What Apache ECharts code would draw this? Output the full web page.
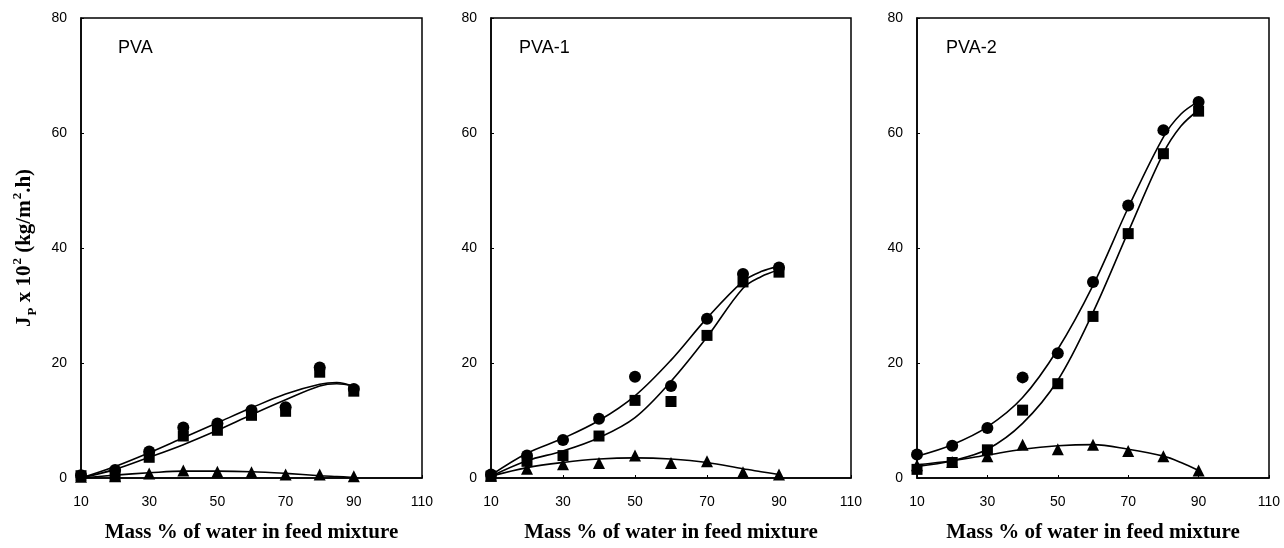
<!DOCTYPE html>
<html>
<head>
<meta charset="utf-8">
<script src="https://cdn.jsdelivr.net/npm/echarts@6/dist/echarts.min.js"></script>
<style>html,body{margin:0;padding:0;background:#fff;}#c{width:1284px;height:548px;}</style>
</head>
<body>
<div id="c"></div>
<script>
// ---- data ----
const panelNames = ['PVA', 'PVA-1', 'PVA-2'];
const xVals = [10, 20, 30, 40, 50, 60, 70, 80, 90];
const xTicks = [10, 30, 50, 70, 90, 110];
const yTicks = [0, 20, 40, 60, 80];

// measured points (circle, square, triangle)
const pvaCircle   = [0.5, 1.4, 4.6, 8.8, 9.5, 11.8, 12.3, 19.2, 15.5];
const pvaSquare   = [0.4, 0.3, 3.6, 7.3, 8.3, 10.9, 11.6, 18.4, 15.1];
const pvaTriangle = [0.2, 0.3, 0.8, 1.3, 1.1, 1.0, 0.6, 0.6, 0.3];

const pva1Circle   = [0.6, 3.9, 6.6, 10.3, 17.6, 16.0, 27.7, 35.5, 36.6];
const pva1Square   = [0.3, 2.9, 3.9, 7.3, 13.5, 13.3, 24.8, 34.1, 35.8];
const pva1Triangle = [0.4, 1.6, 2.4, 2.6, 3.9, 2.6, 2.9, 1.0, 0.6];

const pva2Circle   = [4.1, 5.6, 8.7, 17.5, 21.7, 34.1, 47.4, 60.5, 65.4];
const pva2Square   = [1.5, 2.7, 4.9, 11.8, 16.4, 28.1, 42.5, 56.4, 63.8];
const pva2Triangle = [2.2, 2.8, 3.8, 5.8, 5.0, 5.8, 4.7, 3.8, 1.3];

// fitted curves
const fitX = [10, 20, 30, 40, 50, 60, 70, 80, 85, 90];
const pvaFitUpper   = [0.0, 2.0, 4.4, 7.0, 9.6, 12.2, 14.6, 16.3, 16.6, 15.9];
const pvaFitLower   = [0.0, 1.5, 3.6, 5.8, 8.3, 11.0, 13.6, 16.0, 16.4, 16.0];
const pvaFitTri     = [0.0, 0.5, 0.9, 1.2, 1.2, 1.1, 0.8, 0.4, 0.25, 0.1];

const pva1FitUpper  = [0.5, 4.3, 6.9, 10.0, 14.3, 20.5, 27.8, 34.2, 35.9, 36.8];
const pva1FitLower  = [0.3, 3.0, 4.7, 7.0, 10.5, 16.8, 24.5, 33.0, 35.0, 36.2];
const pva1FitTri    = [0.3, 1.8, 2.7, 3.3, 3.5, 3.3, 2.7, 1.6, 1.1, 0.6];

const pva2FitUpper  = [3.8, 5.8, 8.9, 14.0, 22.4, 33.5, 47.0, 59.3, 63.3, 65.5];
const pva2FitLower  = [2.0, 3.0, 5.0, 9.5, 17.0, 28.8, 42.8, 56.5, 61.2, 64.0];
const pva2FitTri    = [2.3, 3.0, 4.0, 5.0, 5.6, 5.8, 5.0, 3.8, 2.7, 1.3];

const pointSets = [
  [pvaCircle, pvaSquare, pvaTriangle],
  [pva1Circle, pva1Square, pva1Triangle],
  [pva2Circle, pva2Square, pva2Triangle]
];
const fitSets = [
  [pvaFitUpper, pvaFitLower, pvaFitTri],
  [pva1FitUpper, pva1FitLower, pva1FitTri],
  [pva2FitUpper, pva2FitLower, pva2FitTri]
];

// ---- layout ----
const grids = [
  {left: 81, top: 18, width: 341, height: 465},
  {left: 491, top: 18, width: 360, height: 465},
  {left: 917, top: 18, width: 352, height: 465}
];
const labelLeft = [118, 519, 946];

const tickFont = {color: '#000', fontSize: 14, fontFamily: 'Liberation Sans, Arial, sans-serif'};
const serifBold = {fontFamily: 'Liberation Serif, Times New Roman, serif', fontWeight: 'bold', color: '#000'};

const option = {
  animation: false,
  backgroundColor: '#fff',
  title: panelNames.map((n, i) => ({
    text: n,
    left: labelLeft[i],
    top: 39,
    padding: 0,
    textStyle: {fontSize: 18, fontWeight: 'normal', color: '#000', fontFamily: 'Liberation Sans, Arial, sans-serif'}
  })),
  grid: grids.map(g => Object.assign({show: true, borderColor: '#000', borderWidth: 1.5, backgroundColor: 'transparent'}, g)),
  xAxis: grids.map((g, i) => ({
    type: 'value', gridIndex: i, min: xTicks[0], max: xTicks[xTicks.length - 1], interval: 20,
    axisLine: {show: true, lineStyle: {color: '#000', width: 1.5}},
    axisTick: {show: true, inside: true, length: 3, lineStyle: {color: '#000'}},
    splitLine: {show: false},
    axisLabel: Object.assign({margin: 17}, tickFont),
    name: 'Mass % of water in feed mixture',
    nameLocation: 'middle', nameGap: 44,
    nameTextStyle: Object.assign({fontSize: 21}, serifBold)
  })),
  yAxis: grids.map((g, i) => ({
    type: 'value', gridIndex: i, min: yTicks[0], max: yTicks[yTicks.length - 1], interval: 20,
    axisLine: {show: true, lineStyle: {color: '#000', width: 1.5}},
    axisTick: {show: true, inside: true, length: 3, lineStyle: {color: '#000'}},
    splitLine: {show: false},
    axisLabel: Object.assign({margin: 14}, tickFont),
    name: i === 0 ? '{j|J}{sub|P}{j| x 10}{sup|2}{j| (kg/m}{sup|2}{j|.h)}' : '',
    nameLocation: 'middle', nameGap: 42,
    nameTextStyle: {
      rich: {
        j: Object.assign({fontSize: 21, lineHeight: 28, verticalAlign: 'middle'}, serifBold),
        sub: Object.assign({fontSize: 13, lineHeight: 28, verticalAlign: 'bottom', padding: [0, 0, 0, 1]}, serifBold),
        sup: Object.assign({fontSize: 13, lineHeight: 28, verticalAlign: 'top', padding: [0, 0, 0, 1]}, serifBold)
      }
    }
  })),
  series: []
};

const symbols = ['circle', 'rect', 'triangle'];
const symSizes = [12, 11, 12];
for (let p = 0; p < 3; p++) {
  fitSets[p].forEach(arr => {
    option.series.push({
      type: 'line', xAxisIndex: p, yAxisIndex: p, smooth: 0.35, showSymbol: false, symbol: 'none',
      data: fitX.map((x, k) => [x, arr[k]]),
      lineStyle: {color: '#000', width: 1.6}, z: 2
    });
  });
  pointSets[p].forEach((arr, s) => {
    option.series.push({
      type: 'scatter', xAxisIndex: p, yAxisIndex: p, symbol: symbols[s], symbolSize: symSizes[s],
      data: xVals.map((x, k) => [x, arr[k]]),
      itemStyle: {color: '#000', opacity: 1}, z: 3
    });
  });
}

const chart = echarts.init(document.getElementById('c'), null, {renderer: 'canvas'});
chart.setOption(option);
</script>
</body>
</html>
